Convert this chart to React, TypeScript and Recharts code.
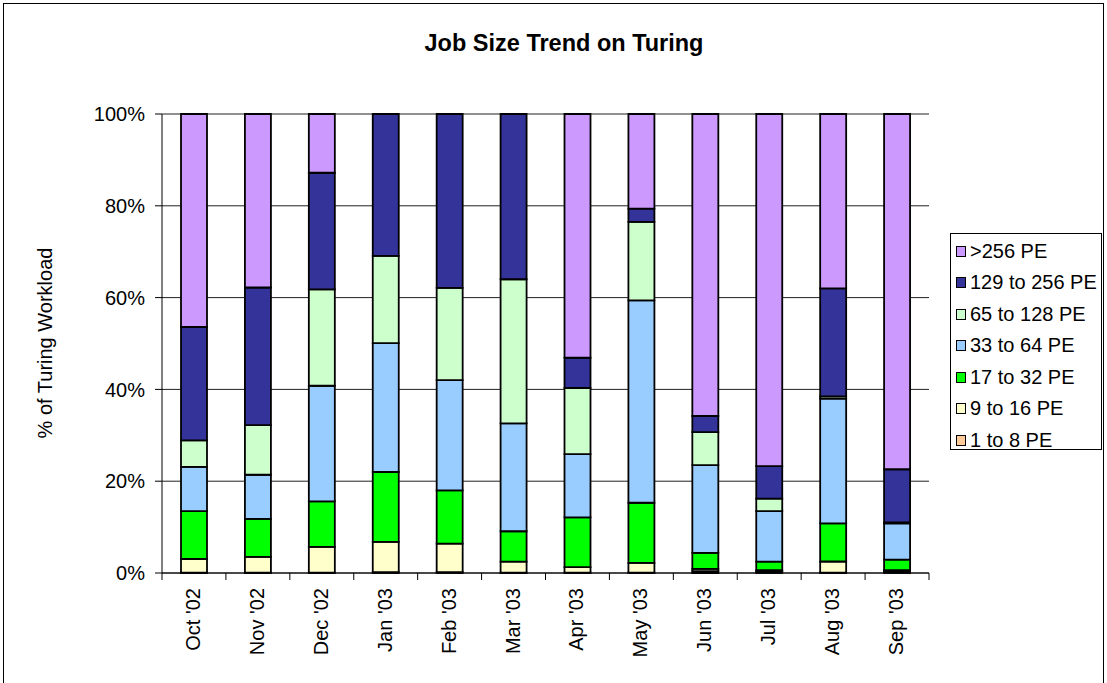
import { BarChart, Bar, XAxis, YAxis, CartesianGrid } from 'recharts';

// months on the x axis
const months = ["Oct '02", "Nov '02", "Dec '02", "Jan '03", "Feb '03", "Mar '03", "Apr '03", "May '03", "Jun '03", "Jul '03", "Aug '03", "Sep '03"];

// % of workload per job size, one value per month
const pe1to8 = [0.1, 0.1, 0.1, 0.2, 0.2, 0.1, 0.1, 0.1, 0.4, 0.3, 0.1, 0.3];
const pe9to16 = [2.95, 3.4, 5.6, 6.6, 6.2, 2.4, 1.2, 2.1, 0.5, 0.3, 2.4, 0.3];
const pe17to32 = [10.45, 8.3, 9.9, 15.2, 11.6, 6.6, 10.8, 13.1, 3.5, 1.9, 8.3, 2.3];
const pe33to64 = [9.6, 9.6, 25.2, 28.1, 24.0, 23.5, 13.8, 44.1, 19.1, 11.0, 27.2, 7.9];
const pe65to128 = [5.8, 10.8, 21.0, 19.0, 20.1, 31.4, 14.4, 17.1, 7.2, 2.7, 0.5, 0.2];
const pe129to256 = [24.7, 30.0, 25.4, 30.9, 37.9, 36.0, 6.6, 2.9, 3.5, 7.1, 23.5, 11.6];
const peOver256 = [46.4, 37.8, 12.8, 0, 0, 0, 53.1, 20.6, 65.8, 76.7, 38.0, 77.4];

const yTicks = [0, 0.2, 0.4, 0.6, 0.8, 1];

// bottom of the stack first
const series = [
  { key: 'p1', name: '1 to 8 PE', color: '#FFCC99', values: pe1to8 },
  { key: 'p2', name: '9 to 16 PE', color: '#FFFFCC', values: pe9to16 },
  { key: 'p3', name: '17 to 32 PE', color: '#00FF00', values: pe17to32 },
  { key: 'p4', name: '33 to 64 PE', color: '#99CCFF', values: pe33to64 },
  { key: 'p5', name: '65 to 128 PE', color: '#CCFFCC', values: pe65to128 },
  { key: 'p6', name: '129 to 256 PE', color: '#333399', values: pe129to256 },
  { key: 'p7', name: '>256 PE', color: '#CC99FF', values: peOver256 },
];

const data = months.map((m, i) => {
  const row: Record<string, string | number> = { month: m };
  series.forEach((s) => { row[s.key] = s.values[i]; });
  return row;
});

const FONT = '"Liberation Sans", Arial, sans-serif';
const W = 1107;
const H = 683;
const PLOT_LEFT = 162;
const PLOT_RIGHT = 929;
const BAND = (PLOT_RIGHT - PLOT_LEFT) / months.length;

const MonthTick = (props: any) => {
  const { x, y, payload, index } = props;
  const half = BAND / 2;
  return (
    <g>
      <line x1={x - half} y1={y} x2={x - half} y2={y + 7} stroke="#000" />
      {index === months.length - 1 && (
        <line x1={x + half} y1={y} x2={x + half} y2={y + 7} stroke="#000" />
      )}
      <text
        x={x - 1}
        y={y + 15}
        transform={`rotate(-90, ${x - 1}, ${y + 15})`}
        textAnchor="end"
        dominantBaseline="central"
        fontFamily={FONT}
        fontSize={20}
        fill="#000"
      >
        {payload.value}
      </text>
    </g>
  );
};

export default function App() {
  const legendItems = [...series].reverse();
  return (
    <div style={{ position: 'absolute', left: 0, top: 0, width: W, height: H, overflow: 'hidden', background: '#fff', fontFamily: FONT }}>
      {/* chart frame */}
      <div style={{ position: 'absolute', left: 3, top: 3, width: 1099, height: 700, border: '1px solid #000' }} />

      <div style={{ position: 'absolute', left: 0, top: 30, width: 1128, textAlign: 'center', fontSize: 23.5, fontWeight: 'bold', color: '#000' }}>
        Job Size Trend on Turing
      </div>

      <div style={{ position: 'absolute', left: 45, top: 343, transform: 'translate(-50%, -50%) rotate(-90deg)', whiteSpace: 'nowrap', fontSize: 20, color: '#000' }}>
        % of Turing Workload
      </div>

      <div style={{ position: 'absolute', left: 0, top: 0 }}>
        <BarChart
          width={W}
          height={H}
          data={data}
          stackOffset="expand"
          barSize={26}
          margin={{ top: 114, right: W - PLOT_RIGHT, bottom: 10, left: PLOT_LEFT - 60 }}
        >
          <CartesianGrid vertical={false} stroke="#222" />
          <XAxis
            dataKey="month"
            height={100}
            interval={0}
            tickLine={false}
            tickSize={0}
            tickMargin={0}
            axisLine={{ stroke: '#000' }}
            tick={<MonthTick />}
          />
          <YAxis
            width={60}
            ticks={yTicks}
            domain={[0, 1]}
            tickFormatter={(v: number) => `${Math.round(v * 100)}%`}
            tickSize={7}
            tickMargin={10}
            tickLine={{ stroke: '#000' }}
            axisLine={{ stroke: '#000' }}
            tick={{ fill: '#000', fontSize: 20, fontFamily: FONT }}
          />
          {series.map((s) => (
            <Bar
              key={s.key}
              dataKey={s.key}
              name={s.name}
              stackId="a"
              fill={s.color}
              stroke="#000"
              strokeWidth={1.8}
              isAnimationActive={false}
            />
          ))}
        </BarChart>
      </div>

      {/* legend */}
      <div style={{ position: 'absolute', left: 950, top: 233, width: 150, height: 215, border: '1px solid #000', background: '#fff' }}>
        {legendItems.map((s, i) => (
          <div key={s.key} style={{ position: 'absolute', left: 5, top: 6 + i * 31.5, height: 22, display: 'flex', alignItems: 'center', whiteSpace: 'nowrap' }}>
            <span style={{ display: 'inline-block', width: 8, height: 9, background: s.color, border: '1.5px solid #000', marginRight: 4 }} />
            <span style={{ fontSize: 20, color: '#000' }}>{s.name}</span>
          </div>
        ))}
      </div>
    </div>
  );
}
